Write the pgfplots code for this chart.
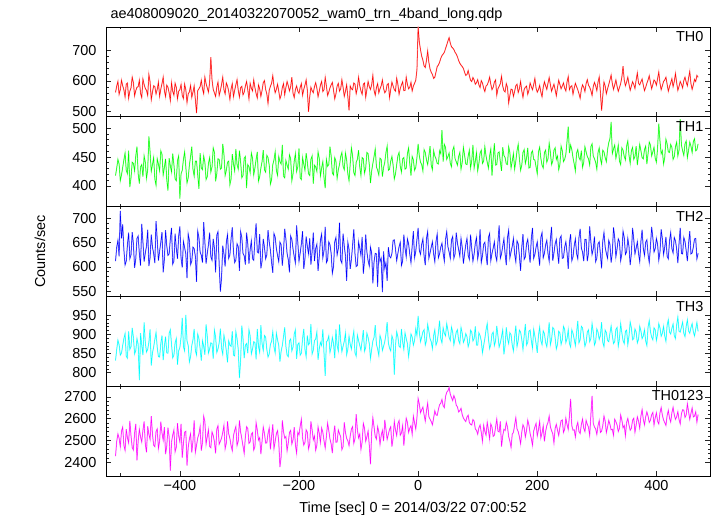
\documentclass[border=0pt]{standalone}
\usepackage{fontspec}
\setmainfont{Liberation Sans}
\usepackage{pgfplots}
\pgfplotsset{compat=1.18}
\usepackage{pgfplotstable}
\definecolor{cR}{RGB}{255,0,0}
\definecolor{cG}{RGB}{0,255,0}
\definecolor{cB}{RGB}{0,0,255}
\definecolor{cC}{RGB}{0,255,255}
\definecolor{cM}{RGB}{255,0,255}
\definecolor{lR}{RGB}{255,160,160}
\definecolor{lG}{RGB}{160,255,160}
\definecolor{lB}{RGB}{160,160,255}
\definecolor{lC}{RGB}{160,255,255}
\definecolor{lM}{RGB}{255,160,255}
\pgfplotstableread{
t a b c d e
-508 562 418 612 832 2428
-506 583 431 641 861 2496
-504 598 446 655 885 2530
-502 556 438 622 873 2511
-500 571 409 716 846 2472
-498 602 419 659 851 2543
-496 584 432 688 871 2561
-494 571 445 636 889 2478
-492 547 457 604 902 2455
-490 589 427 612 843 2552
-488 593 421 646 838 2512
-486 543 461 671 908 2489
-484 566 398 617 861 2590
-482 577 414 625 868 2521
-480 612 441 672 917 2468
-478 594 439 648 892 2457
-476 551 426 598 849 2534
-474 568 452 617 858 2576
-472 579 468 659 889 2409
-470 581 421 664 874 2498
-468 602 404 627 781 2551
-466 559 433 603 903 2516
-464 545 437 689 872 2493
-462 606 416 652 846 2547
-460 588 452 611 931 2587
-458 575 441 629 879 2483
-456 569 413 643 854 2446
-454 552 428 677 861 2565
-452 621 486 602 880 2528
-450 597 459 619 913 2506
-448 538 425 667 819 2612
-446 563 437 641 852 2529
-444 584 449 628 867 2478
-442 581 412 608 887 2472
-440 557 401 695 905 2541
-438 572 447 657 866 2553
-436 596 438 613 842 2463
-434 549 426 633 841 2498
-432 573 461 651 876 2586
-430 591 455 672 897 2534
-428 612 419 589 833 2502
-426 568 432 616 869 2561
-424 548 447 676 894 2437
-422 586 411 644 852 2474
-420 579 392 624 851 2559
-418 561 448 627 903 2517
-416 535 435 658 912 2362
-414 594 424 681 874 2493
-412 566 456 606 839 2525
-410 553 437 612 846 2548
-408 592 412 669 878 2448
-406 579 409 639 889 2469
-404 541 444 617 821 2579
-402 566 452 664 857 2521
-400 571 378 684 866 2494
-398 588 421 618 892 2576
-396 552 427 599 943 2421
-394 542 446 653 868 2487
-392 589 459 640 857 2538
-390 571 433 627 951 2542
-388 529 405 577 883 2385
-386 557 414 668 871 2468
-384 564 436 655 828 2507
-382 585 451 605 842 2531
-380 546 468 612 871 2445
-378 563 429 641 886 2497
-376 583 417 638 914 2592
-374 539 443 622 858 2446
-372 494 443 569 846 2478
-370 568 419 674 901 2512
-368 574 395 661 889 2530
-366 581 457 631 863 2563
-364 602 431 624 832 2454
-362 574 428 609 884 2491
-360 558 452 693 869 2611
-358 612 441 652 847 2587
-356 591 411 607 926 2483
-354 577 416 628 895 2518
-352 563 439 646 851 2549
-350 596 449 671 862 2472
-348 678 424 621 878 2467
-346 603 433 614 876 2539
-344 572 466 658 837 2523
-342 561 458 639 911 2495
-340 549 408 589 893 2441
-338 579 421 666 853 2552
-336 596 447 673 862 2568
-334 552 446 604 878 2483
-332 568 429 549 915 2496
-330 588 431 578 864 2511
-328 612 473 644 848 2537
-326 571 455 627 898 2569
-324 557 418 601 881 2462
-322 593 427 651 857 2488
-320 583 441 667 827 2588
-318 566 443 618 883 2531
-316 539 402 625 872 2509
-314 574 412 659 869 2476
-312 591 455 682 908 2453
-310 548 438 631 846 2522
-308 569 426 609 844 2546
-306 587 464 614 907 2564
-304 604 437 648 889 2477
-302 569 429 642 861 2497
-300 547 461 592 786 2592
-298 578 442 673 832 2539
-296 582 414 661 923 2508
-294 554 418 628 889 2474
-292 563 448 623 838 2441
-290 583 451 605 872 2518
-288 598 396 671 876 2563
-286 571 437 648 851 2555
-284 541 433 607 912 2487
-282 592 423 636 896 2493
-280 576 457 654 849 2529
-278 567 448 617 862 2536
-276 603 419 614 881 2456
-274 578 431 659 879 2471
-272 558 446 690 835 2581
-270 544 459 631 914 2548
-268 587 408 629 869 2502
-266 574 416 668 853 2513
-264 549 431 597 924 2437
-262 569 442 612 876 2497
-260 594 462 658 858 2561
-258 601 428 641 897 2532
-256 572 424 617 893 2488
-254 557 453 625 861 2489
-252 526 449 676 841 2532
-250 569 436 652 849 2557
-248 582 403 635 874 2459
-246 592 411 609 882 2518
-244 617 437 588 907 2574
-242 583 445 669 867 2462
-240 561 459 662 852 2496
-238 572 427 638 903 2531
-236 589 418 624 886 2545
-234 566 451 611 871 2494
-232 541 442 651 829 2378
-230 553 438 646 856 2425
-228 578 471 603 871 2592
-226 591 417 632 894 2541
-224 554 414 679 918 2511
-222 578 444 658 869 2518
-220 598 436 628 846 2453
-218 584 429 615 842 2489
-216 567 454 589 883 2537
-214 581 447 664 888 2546
-212 612 409 657 857 2484
-210 559 421 637 867 2503
-208 545 443 621 901 2561
-206 572 456 608 912 2479
-204 583 425 686 836 2442
-202 566 433 651 874 2538
-200 559 465 612 878 2526
-198 579 414 629 846 2566
-196 591 411 648 851 2597
-194 553 449 674 889 2512
-192 572 438 596 914 2479
-190 586 427 617 861 2491
-188 603 457 663 842 2548
-186 569 441 643 897 2537
-184 498 421 627 873 2461
-182 547 418 659 878 2484
-180 579 446 605 927 2587
-178 568 452 631 849 2549
-176 561 404 671 859 2503
-174 581 436 612 884 2521
-172 594 433 638 888 2455
-170 576 425 647 906 2478
-168 548 459 592 834 2562
-166 566 448 621 862 2533
-164 586 417 656 879 2491
-162 598 431 668 871 2557
-160 565 442 619 913 2538
-158 571 414 634 851 2498
-156 611 396 683 792 2466
-154 583 446 609 881 2519
-152 552 434 614 884 2579
-150 563 437 652 896 2546
-148 577 468 646 853 2507
-146 587 452 628 867 2484
-144 595 422 587 892 2442
-142 569 419 601 876 2523
-140 541 449 652 838 2568
-138 557 443 661 913 2492
-136 583 413 625 871 2493
-134 592 428 638 857 2548
-132 566 437 692 926 2531
-130 574 451 614 882 2517
-128 604 458 608 855 2458
-126 579 434 669 869 2472
-124 549 428 643 882 2583
-122 566 457 623 903 2536
-120 587 445 571 847 2509
-118 548 421 651 861 2498
-116 503 409 637 895 2476
-114 583 439 596 874 2521
-112 574 466 616 862 2552
-110 571 452 645 889 2563
-108 593 423 678 908 2487
-106 589 418 627 852 2508
-104 558 441 601 843 2621
-102 576 446 603 898 2549
-100 612 462 652 884 2512
-98 584 433 639 871 2529
-96 567 418 624 859 2459
-94 556 449 662 884 2493
-92 589 447 586 911 2578
-90 593 422 614 856 2556
-88 546 431 667 866 2496
-86 572 458 631 903 2517
-84 598 456 613 892 2543
-82 581 437 602 876 2478
-80 572 405 641 837 2391
-78 587 426 629 861 2538
-76 618 439 566 883 2604
-74 569 451 611 892 2562
-72 553 464 628 924 2518
-70 578 433 627 874 2506
-68 591 427 559 862 2563
-66 561 419 641 845 2539
-64 574 448 611 897 2482
-62 584 446 618 886 2523
-60 603 416 548 858 2546
-58 575 432 632 869 2497
-56 561 441 597 881 2594
-54 567 458 609 901 2551
-52 588 469 571 932 2505
-50 591 427 641 878 2529
-48 545 429 622 864 2551
-46 572 443 619 857 2563
-44 596 451 628 896 2472
-42 583 436 655 886 2511
-40 571 412 656 795 2587
-38 566 421 637 871 2548
-36 609 437 613 907 2523
-34 589 452 628 894 2577
-32 556 458 642 869 2591
-30 575 434 651 866 2524
-28 587 424 603 914 2534
-26 597 447 612 881 2568
-24 568 449 667 861 2476
-22 569 429 639 904 2542
-20 612 431 621 889 2602
-18 588 456 658 876 2583
-16 574 466 648 842 2537
-14 579 438 626 868 2556
-12 595 418 609 901 2568
-10 567 451 643 893 2529
-8 583 445 674 872 2611
-6 592 427 619 884 2581
-4 602 432 632 915 2553
-2 636 449 657 897 2604
0 778 473 681 948 2692
2 728 452 634 906 2667
4 702 441 626 881 2627
6 681 437 647 893 2641
8 668 426 658 907 2653
10 649 463 622 912 2618
12 644 458 604 872 2589
14 667 445 659 884 2636
16 698 437 673 926 2671
18 661 452 618 909 2609
20 639 469 629 889 2598
22 628 436 641 881 2587
24 621 428 652 863 2572
26 608 461 627 897 2603
28 612 452 611 912 2636
30 629 447 653 872 2618
32 647 439 668 881 2615
34 652 438 619 904 2642
36 661 461 627 936 2664
38 674 456 641 889 2671
40 683 497 649 878 2688
42 688 442 628 917 2659
44 694 472 612 903 2651
46 706 467 657 896 2702
48 718 446 673 928 2721
50 731 451 642 911 2728
52 742 457 631 892 2743
54 724 439 618 884 2712
56 712 433 656 919 2697
58 708 462 663 906 2683
60 703 468 618 873 2706
62 694 447 627 889 2691
64 688 442 671 906 2662
66 679 436 649 912 2654
68 667 451 636 884 2631
70 658 458 622 876 2637
72 652 429 659 918 2648
74 647 441 641 903 2619
76 641 467 607 879 2603
78 628 453 628 887 2594
80 618 438 646 902 2587
82 621 437 659 894 2608
84 634 452 624 868 2616
86 617 462 616 879 2582
88 602 431 667 911 2574
90 598 444 638 906 2571
92 611 471 612 883 2596
94 603 431 627 889 2589
96 589 443 649 921 2553
98 594 458 661 872 2546
100 604 426 617 872 2529
102 587 439 632 904 2558
104 578 457 678 897 2571
106 601 462 609 883 2537
108 593 439 623 852 2496
110 576 443 647 871 2569
112 565 468 651 889 2542
114 583 452 626 912 2524
116 587 441 604 928 2583
118 597 431 661 889 2548
120 612 452 669 863 2507
122 589 464 613 874 2576
124 571 418 628 901 2561
126 579 448 639 906 2519
128 596 474 652 871 2524
130 603 436 624 883 2561
132 553 437 613 922 2598
134 574 457 652 896 2543
136 582 459 686 867 2539
138 591 442 618 878 2587
140 615 426 627 894 2472
142 583 467 643 912 2521
144 568 453 658 848 2551
146 564 449 627 871 2546
148 591 438 604 918 2583
150 579 437 661 889 2562
152 527 468 676 876 2518
154 552 458 619 904 2497
156 573 431 631 899 2468
158 571 443 643 872 2529
160 549 456 659 857 2537
162 566 429 627 893 2571
164 584 443 611 923 2604
166 589 461 654 868 2553
168 562 472 648 884 2541
170 574 447 623 911 2517
172 598 427 592 906 2485
174 567 436 641 887 2538
176 546 458 668 861 2572
178 572 463 616 896 2559
180 579 439 621 927 2516
182 583 448 648 872 2546
184 556 466 657 879 2593
186 569 431 631 908 2571
188 593 432 609 911 2532
190 581 457 659 884 2509
192 571 461 681 864 2478
194 588 446 618 913 2543
196 608 445 626 896 2562
198 576 433 641 876 2578
200 563 421 652 852 2521
202 571 459 627 897 2549
204 585 467 603 919 2587
206 563 448 661 884 2512
208 548 436 671 873 2534
210 579 431 619 909 2567
212 597 458 628 902 2496
214 584 462 646 879 2541
216 572 441 655 868 2568
218 592 447 628 896 2583
220 611 474 612 931 2612
222 587 458 657 873 2563
224 566 437 683 887 2545
226 578 443 613 918 2531
228 589 462 629 914 2489
230 571 466 648 891 2556
232 551 446 657 862 2574
234 579 452 632 874 2547
236 602 428 607 908 2523
238 588 437 659 904 2561
240 574 469 664 874 2591
242 583 461 618 886 2594
244 593 442 619 921 2537
246 576 446 641 913 2552
248 567 455 652 879 2602
250 597 478 629 889 2573
252 614 503 596 912 2551
254 571 457 651 876 2612
256 581 471 668 867 2691
258 584 463 613 912 2568
260 556 449 621 903 2547
262 576 438 644 887 2549
264 592 426 658 871 2516
266 581 457 628 904 2564
268 571 463 617 935 2583
270 558 449 661 878 2541
272 543 445 679 886 2532
274 572 461 639 921 2573
276 587 432 631 917 2598
278 579 441 612 893 2556
280 565 468 657 869 2541
282 591 459 657 879 2592
284 604 451 612 906 2574
286 586 447 629 912 2561
288 579 436 684 881 2523
290 568 468 652 889 2617
292 552 473 626 928 2705
294 581 452 637 906 2579
296 595 447 663 872 2562
298 584 441 611 881 2553
300 568 429 618 914 2528
302 596 458 648 906 2569
304 613 466 652 887 2591
306 562 447 627 897 2537
308 502 438 597 932 2543
310 551 462 654 879 2568
312 596 459 671 868 2612
314 583 449 641 911 2589
316 558 442 628 905 2536
318 574 463 618 884 2562
320 588 475 655 881 2592
322 603 482 647 903 2574
324 619 511 609 922 2549
326 591 456 629 897 2551
328 572 464 682 876 2523
330 587 471 661 881 2597
332 603 448 621 913 2586
334 582 458 638 918 2571
336 566 471 658 869 2541
338 578 443 652 889 2556
340 591 437 613 928 2617
342 612 466 627 904 2594
344 648 462 674 884 2558
346 603 451 661 876 2569
348 584 445 626 908 2521
350 596 469 631 911 2583
352 612 478 659 873 2601
354 589 453 642 896 2571
356 569 439 604 932 2547
358 583 461 628 917 2556
360 597 467 681 886 2593
362 588 446 657 889 2602
364 575 451 627 914 2538
366 603 469 639 906 2571
368 626 436 652 878 2608
370 592 454 628 887 2589
372 587 472 611 921 2556
374 597 461 653 909 2612
376 606 449 677 889 2642
378 586 447 638 896 2597
380 568 463 624 912 2572
382 579 469 651 883 2608
384 592 438 656 871 2631
386 603 456 626 919 2612
388 617 476 609 936 2583
390 594 471 642 907 2593
392 574 452 683 893 2618
394 588 459 661 886 2629
396 603 467 631 917 2571
398 598 448 638 912 2604
400 586 441 659 884 2627
402 607 466 647 901 2588
404 629 508 614 928 2576
406 592 478 631 917 2627
408 571 456 678 895 2651
410 584 461 658 903 2616
412 598 438 626 921 2594
414 603 449 641 896 2582
416 612 481 662 882 2569
418 589 473 622 924 2614
420 566 459 617 938 2638
422 581 458 654 906 2603
424 593 472 671 901 2585
426 607 467 638 916 2627
428 581 446 629 927 2652
430 598 451 661 897 2618
432 624 468 654 889 2597
434 594 476 637 924 2609
436 569 452 608 945 2632
438 582 462 649 908 2596
440 598 516 681 906 2576
442 589 471 628 919 2622
444 577 461 627 932 2641
446 601 453 661 903 2639
448 612 473 653 894 2606
450 596 478 634 921 2617
452 584 449 612 938 2668
454 609 462 648 909 2632
456 631 476 674 903 2597
458 591 469 627 918 2624
460 572 458 629 928 2649
462 587 477 641 907 2608
464 605 482 658 896 2612
466 598 461 659 914 2631
468 618 463 617 931 2584
470 612 473 628 908 2619
}\data

\pgfplotsset{
  panel/.style={
    scale only axis, width=604bp, height=89.8bp,
    anchor=south west,
    xmin=-524, xmax=490,
    xtick={-400,-200,0,200,400},
    minor xtick={-500,-300,-100,100,300},
    xticklabels={},
    tick align=inside, xtick pos=both, ytick pos=both,
    major tick length=5bp, minor tick length=2.5bp,
    minor y tick num=4,
    axis line style={line width=0.8bp},
    every tick/.style={black!85, line width=0.7bp},
    tick label style={font=\fontsize{14.5}{17}\selectfont},
    yticklabel style={xshift=-6bp},
    xticklabel style={yshift=-1bp},
    /pgf/number format/1000 sep={},
    /pgf/number format/assume math mode=true,
  },
}
\tikzset{
  lab/.style={anchor=north east, inner sep=0pt, xshift=-6.5bp, yshift=-4.5bp,
    font=\fontsize{14.5}{17}\selectfont},
}

\begin{document}
\begin{tikzpicture}
\useasboundingbox (0,0) rectangle (717bp,516bp);

\begin{axis}[panel, at={(106bp,399.2bp)}, ymin=482, ymax=777, ytick={500,600,700}]
\addplot[lR, line width=1.1bp, forget plot] table[x=t,y=a]{\data};
\addplot[cR, line width=0.45bp] table[x=t,y=a]{\data};
\node[lab] at (rel axis cs:1,1) {TH0};
\end{axis}

\begin{axis}[panel, at={(106bp,309.4bp)}, ymin=364, ymax=520, ytick={400,450,500}]
\addplot[lG, line width=1.1bp, forget plot] table[x=t,y=b]{\data};
\addplot[cG, line width=0.45bp] table[x=t,y=b]{\data};
\node[lab] at (rel axis cs:1,1) {TH1};
\end{axis}

\begin{axis}[panel, at={(106bp,219.6bp)}, ymin=539, ymax=725, ytick={550,600,650,700}]
\addplot[lB, line width=1.1bp, forget plot] table[x=t,y=c]{\data};
\addplot[cB, line width=0.45bp] table[x=t,y=c]{\data};
\node[lab] at (rel axis cs:1,1) {TH2};
\end{axis}

\begin{axis}[panel, at={(106bp,129.8bp)}, ymin=765, ymax=999, ytick={800,850,900,950}]
\addplot[lC, line width=1.1bp, forget plot] table[x=t,y=d]{\data};
\addplot[cC, line width=0.45bp] table[x=t,y=d]{\data};
\node[lab] at (rel axis cs:1,1) {TH3};
\end{axis}

\begin{axis}[panel, at={(106bp,40bp)}, ymin=2337, ymax=2749, ytick={2400,2500,2600,2700},
  xticklabels={−400,−200,0,200,400}]
\addplot[lM, line width=1.1bp, forget plot] table[x=t,y=e]{\data};
\addplot[cM, line width=0.45bp] table[x=t,y=e]{\data};
\node[lab] at (rel axis cs:1,1) {TH0123};
\end{axis}

\node[font=\fontsize{14.5}{17}\selectfont, anchor=base west] at (107bp,497bp)
  {ae408009020\_20140322070052\_wam0\_trn\_4band\_long.qdp};
\node[font=\fontsize{14.5}{17}\selectfont, rotate=90] at (40bp,264.5bp) {Counts/sec};
\node[font=\fontsize{14.5}{17}\selectfont, anchor=base] at (413bp,4bp)
  {Time [sec] 0 = 2014/03/22 07:00:52};
\end{tikzpicture}
\end{document}
